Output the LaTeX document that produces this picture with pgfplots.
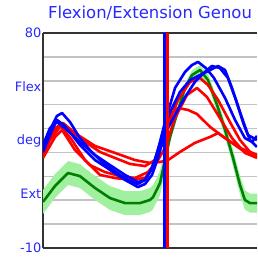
\documentclass[border=0pt]{standalone}
\usepackage{pgfplots}
\pgfplotsset{compat=1.18}
\usepgfplotslibrary{fillbetween}
\usepackage{fontspec}
\setmainfont{DejaVu Sans}
\definecolor{tblue}{RGB}{40,40,255}
\definecolor{cblue}{RGB}{0,0,255}
\definecolor{cred}{RGB}{255,0,0}
\definecolor{cgreen}{RGB}{0,128,0}
\definecolor{lgreen}{RGB}{160,240,160}
\definecolor{gridc}{RGB}{195,195,195}
\begin{document}
\begin{tikzpicture}
\begin{axis}[
  width=214bp, height=215bp, scale only axis,
  xmin=0, xmax=104.4, ymin=-10, ymax=80,
  axis x line*=box, axis y line*=left,
  axis line style={-, line width=2bp, black!80},
  xtick=\empty,
  ytick={0,10,...,70}, yticklabels={},
  ymajorgrids, grid style={gridc, line width=1.5bp},
  major tick length=0pt,
  extra y ticks={80,57.5,35,12.5,-10},
  extra y tick labels={80,Flex,deg,Ext,-10},
  extra y tick style={grid=none},
  yticklabel style={font=\fontsize{13}{14}\selectfont, text=tblue, inner sep=1.5bp},
  title={Flexion/Extension Genou},
  title style={at={(0.5,1)}, anchor=base, yshift=9bp, font=\fontsize{16.5}{18}\selectfont, text=tblue, inner sep=0pt},
  every axis plot/.append style={line width=2.6bp, line join=round},
]
% normative band
\addplot[name path=up, draw=none, forget plot] coordinates {(0,14.3) (5.9,21.0) (12.2,26.4) (18.0,25.1) (25.4,20.1) (32.7,15.9) (40.0,13.8) (47.3,13.8) (52.2,15.1) (53.7,16.3) (57.1,22.2) (59.5,31.8) (62.0,38.5) (65.9,49.8) (69.3,59.0) (72.7,64.4) (76.6,66.5) (80.5,62.8) (84.9,52.9) (88.8,42.4) (92.7,31.2) (96.1,20.4) (98.5,14.1) (101,12.8) (104.4,12.8)};
\addplot[name path=lo, draw=none, forget plot] coordinates {(0,4.3) (5.9,11.0) (12.2,16.4) (18.0,15.1) (25.4,10.1) (32.7,5.9) (40.0,3.8) (47.3,3.8) (52.2,5.1) (53.7,6.3) (57.1,12.2) (59.5,21.8) (62.0,34.5) (65.9,45.8) (69.3,55.0) (72.7,60.4) (76.6,62.5) (80.5,57.8) (84.9,46.9) (88.8,36.4) (92.7,24.2) (96.1,12.4) (98.5,6.1) (101,4.8) (104.4,4.8)};
\addplot[lgreen, draw=none] fill between[of=up and lo];
% normative mean
\addplot[cgreen] coordinates {(0,9.3) (5.9,16.0) (12.2,21.4) (18.0,20.1) (25.4,15.1) (32.7,10.9) (40.0,8.8) (47.3,8.8) (52.2,10.1) (53.7,11.3) (57.1,17.2) (59.5,26.8) (62.0,36.5) (65.9,47.8) (69.3,57.0) (72.7,62.4) (76.6,64.5) (80.5,60.3) (84.9,49.9) (88.8,39.4) (92.7,27.7) (96.1,16.4) (98.5,10.1) (101,8.8) (104.4,8.8)};
% red curves
\addplot[cred] coordinates {(0,28.9) (3.4,35.2) (8.3,40.7) (13.2,39.4) (20.5,34.4) (27.8,30.2) (35.1,27.7) (42.4,25.2) (49.8,24.3) (54.6,26.8) (58.0,33.1) (61.0,41.5) (65.9,52.0) (71.7,59.5) (76.6,61.2) (80.5,58.2) (85.4,52.0) (91.2,42.7) (96.1,35.2) (101,30.2) (104.4,28.9)};
\addplot[cred] coordinates {(0,27.7) (5.9,36.5) (9.3,39.4) (15.6,31.0) (22.9,24.7) (30.2,21.8) (37.6,20.1) (44.9,19.3) (51.2,21.8) (56.1,26.8) (59.5,31.9) (64.4,44.4) (70.2,54.0) (75.1,57.0) (80.0,53.2) (86.3,44.4) (92.2,36.0) (98.5,29.8) (104.4,27.7)};
\addplot[cred] coordinates {(0,29.8) (4.4,37.3) (8.3,41.5) (14.1,35.2) (20.5,26.8) (27.8,20.6) (35.1,19.3) (42.4,18.5) (49.8,19.3) (54.6,24.7) (58.5,35.2) (62.0,45.7) (65.9,48.6) (70.7,47.8) (75.1,46.1) (81.5,40.7) (88.8,36.0) (96.1,31.9) (104.4,28.9)};
\addplot[cred] coordinates {(0,31.0) (5.9,40.2) (9.8,42.3) (15.6,38.1) (25.4,32.7) (35.1,29.8) (44.9,26.8) (52.2,25.6) (57.1,26.0) (61.0,26.8) (66.8,30.2) (74.1,34.0) (81.5,36.5) (85.4,38.1) (90.2,35.2) (97.1,31.0) (104.4,28.1)};
% blue curves
\addplot[cblue] coordinates {(0,31.9) (3.4,39.4) (6.8,45.3) (9.3,46.5) (13.2,42.7) (18.0,36.0) (22.9,31.0) (27.8,26.8) (32.7,23.5) (37.6,20.6) (42.4,18.0) (46.3,16.8) (49.8,18.5) (52.2,21.8) (54.6,26.8) (57.1,34.4) (59.5,42.7) (62.0,49.9) (64.4,57.0) (69.3,63.7) (72.7,66.6) (75.6,67.9) (79.5,65.3) (83.4,61.2) (88.8,52.8) (93.7,43.6) (98.5,36.0) (102,34.4) (104.4,36.9)};
\addplot[cblue] coordinates {(0,30.2) (3.4,37.3) (6.8,43.6) (10.7,41.1) (18.0,33.1) (25.4,26.8) (32.7,22.7) (40.0,18.5) (46.3,15.5) (49.8,16.8) (53.2,20.6) (56.1,27.7) (58.5,35.2) (61.0,40.2) (64.4,45.7) (69.3,53.2) (74.1,59.5) (79.0,63.7) (82.4,66.2) (86.3,65.3) (90.2,61.2) (94.1,52.0) (98.0,41.5) (101,35.2) (104.4,32.3)};
\addplot[cblue] coordinates {(0,33.1) (3.4,40.2) (6.8,42.7) (10.7,40.2) (18.0,34.4) (25.4,28.9) (32.7,24.7) (40.0,20.6) (46.3,17.6) (49.8,18.5) (53.2,23.5) (56.1,31.0) (58.5,38.6) (62.0,46.9) (66.8,55.3) (71.7,60.3) (76.6,62.4) (81.5,64.5) (85.4,66.2) (88.8,64.5) (92.2,57.0) (96.1,46.9) (100,37.3) (104.4,35.2)};
% toe-off markers
\addplot[cred, line width=3bp] coordinates {(60.9,-10) (60.9,80)};
\addplot[cblue, line width=3bp] coordinates {(59.5,-10) (59.5,80)};
\end{axis}
\pgfresetboundingbox
\path[use as bounding box] ([xshift=-43bp,yshift=-16bp]current axis.south west) rectangle ([yshift=33bp]current axis.north east);
\end{tikzpicture}
\end{document}
